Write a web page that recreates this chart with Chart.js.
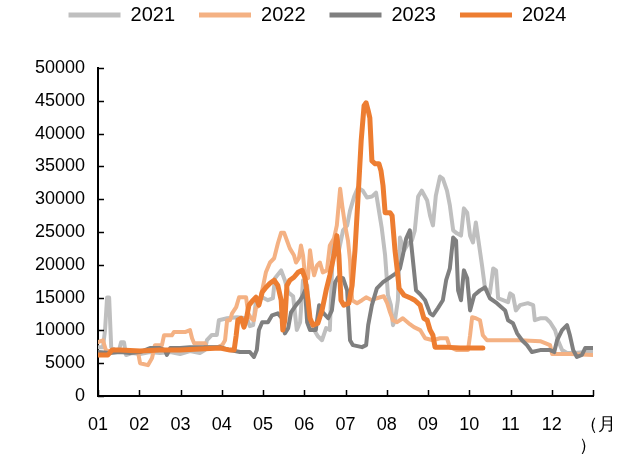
<!DOCTYPE html>
<html>
<head>
<meta charset="utf-8">
<script src="https://cdn.jsdelivr.net/npm/chart.js@4/dist/chart.umd.min.js"></script>
<style>
  html, body { margin: 0; padding: 0; background: #fff; }
  #wrap { width: 619px; height: 460px; }
</style>
</head>
<body>
<div id="wrap"><canvas id="c" width="619" height="460"></canvas></div>
<script>
// ---- Data (x in months from 1 Jan, y in value) ----
const seriesNames = ['2021', '2022', '2023', '2024'];
const xTickLabels = ['01','02','03','04','05','06','07','08','09','10','11','12',['  （月','）  ']];

const x2021 = [0.00,0.12,0.17,0.22,0.27,0.32,0.41,0.51,0.56,0.63,0.68,0.82,1.02,1.26,1.50,1.75,1.99,2.23,2.47,2.59,2.64,2.76,2.88,2.93,3.13,3.37,3.61,3.68,3.76,3.83,3.98,4.12,4.24,4.29,4.44,4.53,4.61,4.73,4.82,4.90,4.97,5.07,5.14,5.24,5.33,5.43,5.53,5.62,5.70,5.77,5.84,5.94,6.04,6.11,6.21,6.30,6.42,6.52,6.64,6.74,6.81,6.88,6.96,7.03,7.10,7.15,7.20,7.27,7.32,7.42,7.52,7.61,7.68,7.76,7.85,7.98,8.05,8.12,8.19,8.29,8.36,8.46,8.53,8.61,8.70,8.80,8.87,8.95,9.02,9.09,9.16,9.24,9.31,9.38,9.50,9.58,9.65,9.70,9.82,9.94,9.99,10.06,10.13,10.23,10.42,10.55,10.59,10.72,10.86,10.96,11.08,11.15,11.25,11.37,11.56,11.81,12.00];
const v2021 = [7450,7450,10000,15000,15000,7450,7000,7000,8200,8200,6250,6550,6400,6700,6550,6700,6400,6850,6550,7000,8500,9300,9300,11550,11850,12000,11850,10650,10800,14600,15050,14600,14900,17950,19150,17650,15800,15200,10050,11250,17650,16850,11550,10050,9100,8500,10350,10050,23700,24300,22200,25250,26000,28250,30400,31750,31300,30250,30400,31000,28250,25550,21450,15350,13850,10800,11550,14600,24150,22200,23250,23700,25250,30400,31300,29800,27500,26000,30550,33450,33150,31300,29050,25250,24800,24450,28600,27950,24450,23400,26450,22950,19900,16550,15650,19450,19150,14900,14600,14300,15650,15350,13050,13850,14150,13850,11550,11850,11850,11250,10050,8500,7000,6550,6550,6700,6700];

const x2022 = [0.00,0.12,0.19,0.34,0.53,0.78,0.97,1.02,1.21,1.31,1.38,1.55,1.60,1.79,1.84,2.11,2.23,2.28,2.33,2.59,2.64,2.91,3.01,3.08,3.13,3.20,3.25,3.35,3.42,3.59,3.64,3.71,3.78,3.83,3.90,3.98,4.07,4.17,4.27,4.36,4.44,4.51,4.58,4.65,4.75,4.80,4.87,4.92,4.97,5.02,5.09,5.14,5.19,5.24,5.31,5.38,5.45,5.55,5.62,5.72,5.79,5.87,5.92,5.99,6.06,6.11,6.16,6.28,6.40,6.50,6.64,6.76,6.84,6.93,7.01,7.08,7.15,7.25,7.39,7.56,7.66,7.81,7.93,8.12,8.29,8.46,8.53,8.70,8.97,9.02,9.07,9.16,9.26,9.33,9.43,9.75,10.23,10.72,10.84,10.96,11.01,11.44,12.00];
const v2022 = [8200,8500,7000,6700,6700,6700,6700,5000,4700,5800,7750,7750,9250,9250,9750,9750,10050,8800,8050,8050,7450,7450,7750,8500,11550,11550,12600,13550,15050,15050,12600,11850,11550,13400,13850,16100,18850,20350,21000,23250,24900,24900,23700,22500,21450,20350,21000,22950,21450,18250,17950,22200,19900,18400,19900,20350,18850,19150,22950,24000,26000,31600,29050,26000,23700,20650,14600,14150,14600,15050,14600,14900,15050,15200,14150,12750,11550,11250,11850,10950,10500,10050,8800,8500,8800,8800,7450,7000,7000,9250,12000,11850,11550,9250,8500,8500,8500,8350,8050,7750,6400,6400,6250];

const x2023 = [0.00,0.29,0.53,0.78,1.02,1.26,1.50,1.62,1.67,1.75,1.99,2.23,2.47,2.72,2.96,3.20,3.44,3.68,3.78,3.85,3.90,3.98,4.12,4.22,4.36,4.46,4.53,4.61,4.68,4.80,4.90,4.97,5.02,5.07,5.14,5.28,5.36,5.45,5.58,5.67,5.75,5.82,5.94,6.04,6.11,6.18,6.40,6.50,6.55,6.64,6.76,6.91,7.08,7.22,7.32,7.39,7.47,7.56,7.64,7.71,7.81,7.93,8.05,8.12,8.24,8.36,8.44,8.53,8.61,8.68,8.73,8.80,8.87,8.95,9.02,9.12,9.26,9.38,9.50,9.67,9.87,9.94,10.06,10.16,10.28,10.40,10.52,10.72,10.96,11.06,11.13,11.25,11.37,11.44,11.52,11.61,11.73,11.81,12.00];
const v2023 = [6700,6550,6700,6550,6700,7300,7300,7000,6250,7300,7300,7450,7450,7450,7450,7000,6700,6700,5950,7000,10050,11250,11250,12300,12600,11850,9550,10350,12750,13850,14600,15350,16100,11250,10050,10050,13850,12750,11850,13050,17350,18100,17950,16100,8500,7750,7450,7750,10800,13850,16400,17350,18100,18700,19450,21450,24000,25250,20350,16100,15500,14600,12600,12300,13400,14600,17650,19450,24150,23700,16100,14600,19150,17950,13050,15350,16100,16550,14900,14150,13050,11550,11100,9550,8500,7750,6700,7000,7000,6700,8500,10050,10800,9250,7000,5950,6250,7300,7300];

const x2024 = [0.00,0.24,0.34,0.53,1.02,1.50,1.99,2.47,2.96,3.20,3.30,3.35,3.39,3.47,3.54,3.59,3.66,3.76,3.83,3.90,3.98,4.07,4.17,4.27,4.36,4.44,4.48,4.53,4.58,4.65,4.75,4.85,4.95,5.02,5.09,5.14,5.21,5.33,5.43,5.53,5.62,5.72,5.79,5.84,5.89,5.96,6.08,6.16,6.23,6.30,6.38,6.45,6.50,6.55,6.59,6.64,6.72,6.81,6.86,6.91,6.96,7.08,7.13,7.20,7.25,7.30,7.42,7.59,7.68,7.81,7.90,7.98,8.05,8.12,8.17,8.41,8.78,9.02,9.33];
const v2024 = [6250,6250,7000,7000,6850,7000,7000,7150,7300,7000,7000,9250,11550,11850,10500,11550,13850,14600,15050,13850,15800,16550,17200,17650,16850,14600,10050,11550,16850,17650,18100,18850,19150,17950,14600,11850,10800,11100,13050,16100,18400,21450,24450,21450,14600,13850,14150,16850,22200,29800,38900,44250,44700,43500,42400,35850,35400,35400,34350,32050,27950,27950,27500,22200,19450,16400,15350,14900,14600,13850,11850,11550,10050,9250,7450,7450,7300,7300,7300];

const yTicks = [0,5000,10000,15000,20000,25000,30000,35000,40000,45000,50000];

// ---- Build ----
function pts(xs, vs) { return xs.map((x, i) => ({ x: x, y: vs[i] })); }
const colors = ['#BFBFBF', '#F4B183', '#7F7F7F', '#ED7D31'];
const widths = [4, 4, 4, 5];
const orders = [3, 2, 1, 0];
const allX = [x2021, x2022, x2023, x2024];
const allV = [v2021, v2022, v2023, v2024];

const datasets = seriesNames.map((n, i) => ({
  label: n,
  data: pts(allX[i], allV[i]),
  borderColor: colors[i],
  backgroundColor: colors[i],
  borderWidth: widths[i],
  pointRadius: 0,
  tension: 0,
  borderJoinStyle: 'round',
  borderCapStyle: 'round',
  order: orders[i],
  fill: false
}));

const innerTicks = {
  id: 'innerTicks',
  afterDraw(chart) {
    const ctx = chart.ctx;
    const xs = chart.scales.x, ys = chart.scales.y;
    const a = chart.chartArea;
    ctx.save();
    ctx.strokeStyle = '#000';
    ctx.lineWidth = 1.5;
    ys.ticks.forEach(t => {
      const p = Math.round(ys.getPixelForValue(t.value)) + 0.5;
      ctx.beginPath(); ctx.moveTo(a.left, p); ctx.lineTo(a.left + 6, p); ctx.stroke();
    });
    xs.ticks.forEach(t => {
      const p = Math.round(xs.getPixelForValue(t.value)) + 0.5;
      ctx.beginPath(); ctx.moveTo(p, a.bottom); ctx.lineTo(p, a.bottom - 6); ctx.stroke();
    });
    ctx.restore();
  }
};

const LEGEND_H = 66, LEGEND_DX = 21, LEGEND_DY = -21;
const legendTweak = {
  id: 'legendTweak',
  beforeInit(chart) {
    const lg = chart.legend;
    if (!lg) return;
    const origFit = lg.fit;
    lg.fit = function () { origFit.call(this); this.height = LEGEND_H; };
    const origDraw = lg.draw;
    lg.draw = function () {
      const ctx = this.ctx;
      ctx.save();
      ctx.translate(LEGEND_DX, LEGEND_DY);
      origDraw.call(this);
      ctx.restore();
    };
  }
};

Chart.defaults.font.family = '"Liberation Sans", Arial, sans-serif';
Chart.defaults.color = '#000';

new Chart(document.getElementById('c'), {
  type: 'line',
  data: { datasets: datasets },
  options: {
    responsive: false,
    animation: false,
    devicePixelRatio: 1,
    layout: { padding: { top: 2, right: 26, left: 0, bottom: 0 } },
    plugins: {
      tooltip: { enabled: false },
      legend: {
        position: 'top',
        labels: {
          font: { size: 20 },
          boxWidth: 52,
          boxHeight: 5,
          padding: 24,
          color: '#000',
          generateLabels(chart) {
            return chart.data.datasets.map((d, i) => ({
              text: d.label,
              fillStyle: d.borderColor,
              strokeStyle: d.borderColor,
              lineWidth: 0,
              hidden: false,
              datasetIndex: i,
              fontColor: '#000'
            }));
          }
        }
      }
    },
    scales: {
      x: {
        type: 'linear',
        min: 0, max: 12,
        afterBuildTicks(scale) { scale.ticks = xTickLabels.map((_, i) => ({ value: i })); },
        afterFit(scale) { scale.height = 64; scale.paddingLeft = 0; scale.paddingRight = 0; },
        grid: { display: false, drawTicks: false },
        border: { display: true, color: '#000', width: 2 },
        ticks: {
          autoSkip: false, maxRotation: 0, minRotation: 0,
          padding: 18,
          font: { size: 18 },
          color: '#000',
          callback: (v) => xTickLabels[Math.round(v)]
        }
      },
      y: {
        min: 0, max: 50000,
        afterBuildTicks(scale) { scale.ticks = yTicks.map(v => ({ value: v })); },
        afterFit(scale) { scale.width = 98; },
        grid: { display: false, drawTicks: false },
        border: { display: true, color: '#000', width: 2 },
        ticks: {
          padding: 13,
          font: { size: 18 },
          color: '#000',
          callback: (v) => String(v)
        }
      }
    }
  },
  plugins: [innerTicks, legendTweak]
});
</script>
</body>
</html>
